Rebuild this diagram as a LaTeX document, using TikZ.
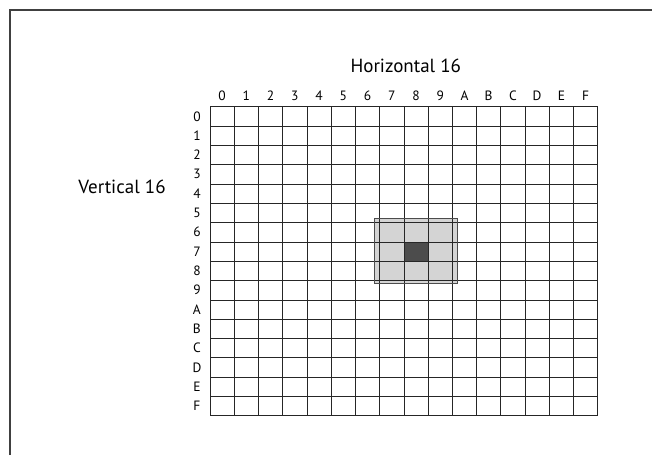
\documentclass[tikz,border=0pt]{standalone}
\usepackage{fontspec}
\setmainfont{PT Sans}
\tikzset{
  gridline/.style={black!85, line width=0.6pt},
  framebox/.style={black!75, line width=1.4pt},
  neighbour/.style={fill=black!17, draw=black!70, line width=0.9pt},
  target/.style={fill=black!70},
  axislabel/.style={font=\fontsize{19}{22}\selectfont, inner sep=0pt},
  hexlabel/.style={font=\fontsize{13.5}{15}\selectfont, inner sep=0pt}
}
\begin{document}
\begin{tikzpicture}[x=24.23pt, y=-19.31pt]
\useasboundingbox (-8.667,-5.526) rectangle (18.24,18.04);
% frame (cut at the right and bottom)
\draw[framebox] (-8.254,18.04) -- (-8.254,-5.008) -- (18.24,-5.008);
% neighbourhood and the cell itself
\fill[neighbour] (6.8,5.78) rectangle (10.2,9.15);
\fill[target] (8,7) rectangle (9,8);
\foreach \i in {0,...,16} {
  \draw[gridline] (\i,0) -- (\i,16);
  \draw[gridline] (0,\i) -- (16,\i);
}
\draw[neighbour, fill=none] (6.8,5.78) rectangle (10.2,9.15);
% labels
\node[axislabel] (htitle) at (8.08,-2.1) {Horizontal 16};
\node[axislabel] (vtitle) at (-3.63,4.16) {Vertical 16};
\foreach \l [count=\i from 0] in {0,1,2,3,4,5,6,7,8,9,A,B,C,D,E,F} {
  \node[hexlabel] (col\l) at (\i+0.5,-0.55) {\l};
  \node[hexlabel] (row\l) at (-0.54,\i+0.5) {\l};
}
\end{tikzpicture}
\end{document}
